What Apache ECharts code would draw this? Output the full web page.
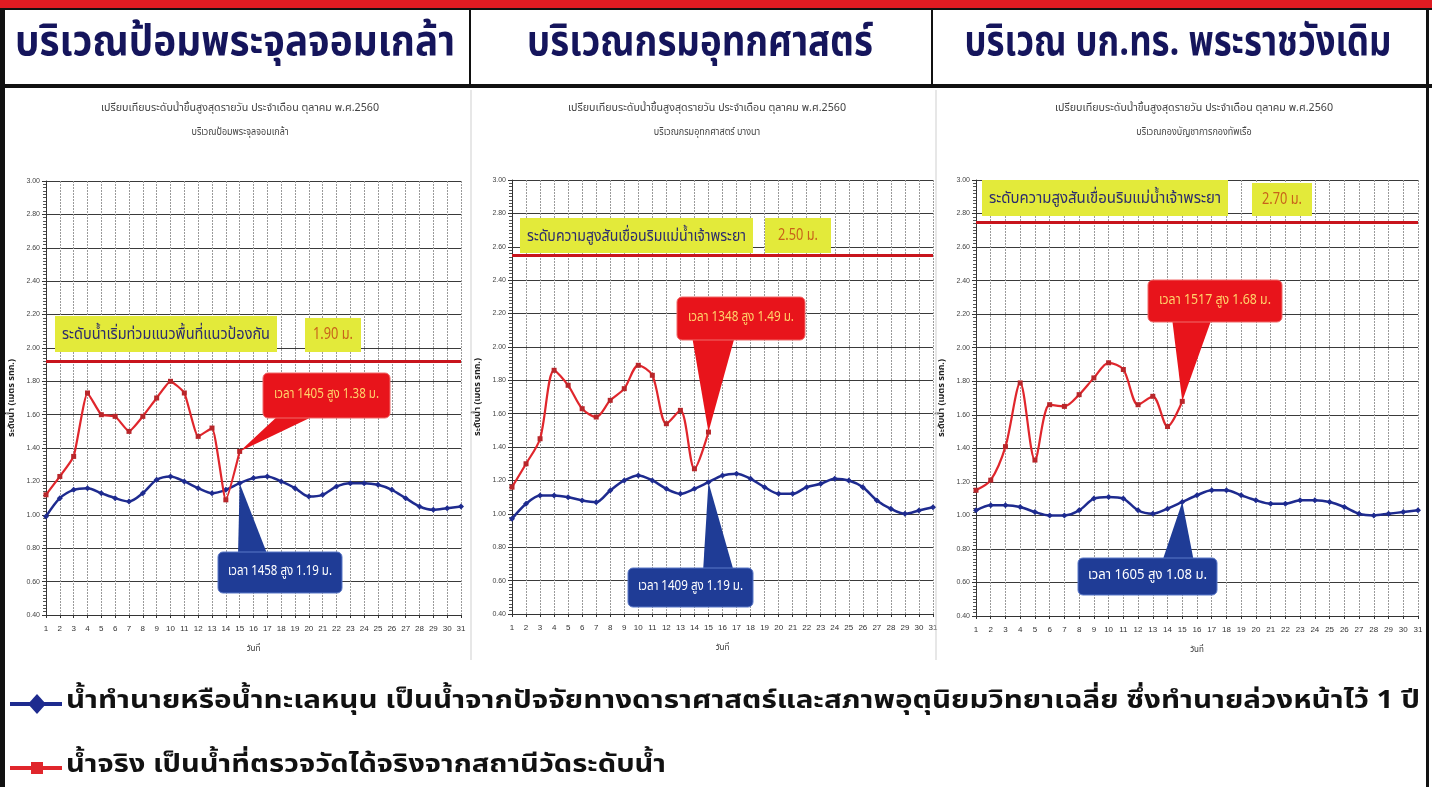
<!DOCTYPE html>
<html><head><meta charset="utf-8">
<script src="https://cdn.jsdelivr.net/npm/echarts@6/dist/echarts.min.js"></script>
<style>html,body{margin:0;padding:0;background:#fff;overflow:hidden}#c{width:1432px;height:787px}</style>
</head><body><div id="c"></div>
<script>
// ---------- data ----------
const days = [1,2,3,4,5,6,7,8,9,10,11,12,13,14,15,16,17,18,19,20,21,22,23,24,25,26,27,28,29,30,31];
const yTicks = [0.4,0.6,0.8,1.0,1.2,1.4,1.6,1.8,2.0,2.2,2.4,2.6,2.8,3.0];

const panelHeaders = ['บริเวณป้อมพระจุลจอมเกล้า','บริเวณกรมอุทกศาสตร์','บริเวณ บก.ทร. พระราชวังเดิม'];
const chartTitle = 'เปรียบเทียบระดับน้ำขึ้นสูงสุดรายวัน ประจำเดือน ตุลาคม พ.ศ.2560';
const chartSubtitles = ['บริเวณป้อมพระจุลจอมเกล้า','บริเวณกรมอุทกศาสตร์ บางนา','บริเวณกองบัญชาการกองทัพเรือ'];

// predicted (blue) and actual (red) daily maximum water level, metres
const pomPredicted = [0.99,1.10,1.15,1.16,1.13,1.10,1.08,1.13,1.21,1.23,1.20,1.16,1.13,1.15,1.19,1.22,1.23,1.20,1.16,1.11,1.12,1.17,1.19,1.19,1.18,1.15,1.10,1.05,1.03,1.04,1.05];
const pomActual    = [1.12,1.23,1.35,1.73,1.60,1.59,1.50,1.59,1.70,1.80,1.73,1.47,1.52,1.09,1.38];
const hydroPredicted = [0.97,1.06,1.11,1.11,1.10,1.08,1.07,1.14,1.20,1.23,1.20,1.15,1.12,1.15,1.19,1.23,1.24,1.21,1.16,1.12,1.12,1.16,1.18,1.21,1.20,1.16,1.08,1.03,1.00,1.02,1.04];
const hydroActual    = [1.16,1.30,1.45,1.86,1.77,1.63,1.58,1.68,1.75,1.89,1.83,1.54,1.62,1.27,1.49];
const navyPredicted = [1.03,1.06,1.06,1.05,1.02,1.00,1.00,1.03,1.10,1.11,1.10,1.03,1.01,1.04,1.08,1.12,1.15,1.15,1.12,1.09,1.07,1.07,1.09,1.09,1.08,1.05,1.01,1.00,1.01,1.02,1.03];
const navyActual    = [1.15,1.21,1.41,1.79,1.33,1.66,1.65,1.72,1.82,1.91,1.87,1.66,1.71,1.53,1.68];

const thresholdLevels = [1.92, 2.55, 2.75];
const thresholdNames = ['ระดับน้ำเริ่มท่วมแนวพื้นที่แนวป้องกัน','ระดับความสูงสันเขื่อนริมแม่น้ำเจ้าพระยา','ระดับความสูงสันเขื่อนริมแม่น้ำเจ้าพระยา'];
const thresholdLabels = ['1.90 ม.','2.50 ม.','2.70 ม.'];

const actualNotes = ['เวลา 1405 สูง 1.38 ม.','เวลา 1348 สูง 1.49 ม.','เวลา 1517 สูง 1.68 ม.'];
const predictedNotes = ['เวลา 1458 สูง 1.19 ม.','เวลา 1409 สูง 1.19 ม.','เวลา 1605 สูง 1.08 ม.'];
const noteDay = 15;

const legendPredicted = 'น้ำทำนายหรือน้ำทะเลหนุน เป็นน้ำจากปัจจัยทางดาราศาสตร์และสภาพอุตุนิยมวิทยาเฉลี่ย ซึ่งทำนายล่วงหน้าไว้ 1 ปี';
const legendActual = 'น้ำจริง เป็นน้ำที่ตรวจวัดได้จริงจากสถานีวัดระดับน้ำ';
const yName = 'ระดับน้ำ (เมตร รทก.)';
const xName = 'วันที่';

// ---------- layout ----------
const FONT = "'Noto Sans Thai','Noto Sans Thai UI','Noto Sans','DejaVu Sans',sans-serif";
const grids = [
  {left:46, top:181, width:415, height:434},
  {left:512, top:180, width:421, height:434},
  {left:976, top:180, width:442, height:436}
];
const titleCx = [240, 707, 1194];
const headerCx = [235, 700, 1178];
const headerW = [440, 346, 427];
const actualSmooth = [0.15, 0.3, 0.3];

const predictedSets = [pomPredicted, hydroPredicted, navyPredicted];
const actualSets = [pomActual, hydroActual, navyActual];

const chart = echarts.init(document.getElementById('c'), null, {renderer:'canvas'});

const xAxes = grids.map((g,i)=>({
  type:'value', gridIndex:i, min:days[0], max:days[days.length-1], interval:1,
  name:xName, nameLocation:'middle', nameGap:30,
  nameTextStyle:{fontSize:8, color:'#333', fontFamily:FONT},
  axisLine:{show:true, lineStyle:{color:'#333', width:1}},
  axisTick:{show:true, length:3, lineStyle:{color:'#333'}},
  axisLabel:{fontSize:8, color:'#333', margin:10, fontFamily:'Liberation Sans Narrow, Liberation Sans, sans-serif'},
  splitLine:{show:true, lineStyle:{color:'#9a9a9a', width:1, type:[2,1]}}
}));
const yAxes = grids.map((g,i)=>({
  type:'value', gridIndex:i, min:yTicks[0], max:yTicks[yTicks.length-1], interval:0.2,
  name:yName, nameLocation:'middle', nameGap:29, nameRotate:90,
  nameTextStyle:{fontSize:9, color:'#222', fontWeight:'bold', fontFamily:FONT},
  axisLine:{show:true, lineStyle:{color:'#333', width:1}},
  axisTick:{show:true, length:4, lineStyle:{color:'#333'}},
  minorTick:{show:true, splitNumber:10, length:3, lineStyle:{color:'#555'}},
  axisLabel:{fontSize:7, color:'#444', margin:6, formatter:v=>v.toFixed(2), fontFamily:'Liberation Sans Narrow, Liberation Sans, sans-serif'},
  splitLine:{show:true, lineStyle:{color:'#3a3a3a', width:1.2}}
}));

const series = [];
grids.forEach((g,i)=>{
  series.push({
    type:'line', xAxisIndex:i, yAxisIndex:i, name:'predicted'+i,
    data: predictedSets[i].map((v,k)=>[days[k], v]),
    smooth:0.3, symbol:'diamond', symbolSize:6, showSymbol:true,
    lineStyle:{color:'#1e2b8f', width:2.5}, itemStyle:{color:'#1e2b8f'}, z:3
  });
  series.push({
    type:'line', xAxisIndex:i, yAxisIndex:i, name:'actual'+i,
    data: actualSets[i].map((v,k)=>[days[k], v]),
    smooth:actualSmooth[i], symbol:'rect', symbolSize:5, showSymbol:true,
    lineStyle:{color:'#e0262c', width:2.2}, itemStyle:{color:'#b8262a'}, z:4,
    markLine:{silent:true, symbol:'none', label:{show:false},
      lineStyle:{color:'#c8141c', width:3, type:'solid'},
      data:[{yAxis:thresholdLevels[i]}]}
  });
});

// measure for horizontal compression of Thai texts
const mctx = document.createElement('canvas').getContext('2d');
function fitScale(text, font, target){ mctx.font = font; const w = mctx.measureText(text).width; return w>0 ? target/w : 1; }

function baseGraphics(){
  const el = [];
  el.push({type:'rect', shape:{x:0,y:0,width:1432,height:8}, style:{fill:'#e01b22'}, z:10});
  el.push({type:'rect', shape:{x:0,y:8,width:1432,height:2}, style:{fill:'#111'}, z:10});
  el.push({type:'rect', shape:{x:0,y:84,width:1432,height:4}, style:{fill:'#111'}, z:10});
  el.push({type:'rect', shape:{x:0,y:8,width:5,height:779}, style:{fill:'#111'}, z:10});
  el.push({type:'rect', shape:{x:1426,y:8,width:3,height:779}, style:{fill:'#111'}, z:10});
  el.push({type:'rect', shape:{x:469,y:8,width:2,height:78}, style:{fill:'#111'}, z:10});
  el.push({type:'rect', shape:{x:931,y:8,width:2,height:78}, style:{fill:'#111'}, z:10});
  el.push({type:'line', shape:{x1:471,y1:90,x2:471,y2:660}, style:{stroke:'#cfcfcf', lineWidth:1}, z:1});
  el.push({type:'line', shape:{x1:936,y1:90,x2:936,y2:660}, style:{stroke:'#cfcfcf', lineWidth:1}, z:1});
  panelHeaders.forEach((t,i)=>{
    const f = 'bold 42px ' + FONT;
    el.push({type:'text', x:headerCx[i], y:47, scaleX:fitScale(t,f,headerW[i]), z:11,
      style:{text:t, x:0, y:0, font:f, fill:'#15155c', align:'center', verticalAlign:'middle',
        textAlign:'center', textVerticalAlign:'middle',
        shadowColor:'rgba(110,140,220,0.8)', shadowBlur:4, shadowOffsetX:2, shadowOffsetY:2}});
  });
  for (let i=0;i<3;i++){
    const f1 = '10px ' + FONT;
    el.push({type:'text', x:titleCx[i], y:109, scaleX:fitScale(chartTitle,f1,278), z:5,
      style:{text:chartTitle, x:0,y:0, font:f1, fill:'#444', align:'center', verticalAlign:'middle', textAlign:'center', textVerticalAlign:'middle'}});
    el.push({type:'text', x:titleCx[i], y:133, scaleX:0.9, z:5,
      style:{text:chartSubtitles[i], x:0,y:0, font:f1, fill:'#444', align:'center', verticalAlign:'middle', textAlign:'center', textVerticalAlign:'middle'}});
  }
  const lf = 'bold 25px ' + FONT;
  el.push({type:'line', shape:{x1:10,y1:704,x2:62,y2:704}, style:{stroke:'#1e2b8f', lineWidth:4}, z:5});
  el.push({type:'polygon', shape:{points:[[37,694],[46,704],[37,714],[28,704]]}, style:{fill:'#1e2b8f'}, z:6});
  el.push({type:'text', x:66, y:703, scaleX:fitScale(legendPredicted,lf,1354), z:5,
    style:{text:legendPredicted, x:0,y:0, font:lf, fill:'#111', align:'left', verticalAlign:'middle', textAlign:'left', textVerticalAlign:'middle'}});
  el.push({type:'line', shape:{x1:10,y1:768,x2:62,y2:768}, style:{stroke:'#e0262c', lineWidth:4}, z:5});
  el.push({type:'rect', shape:{x:31,y:762,width:12,height:12}, style:{fill:'#e0262c'}, z:6});
  el.push({type:'text', x:66, y:767, scaleX:fitScale(legendActual,lf,600), z:5,
    style:{text:legendActual, x:0,y:0, font:lf, fill:'#111', align:'left', verticalAlign:'middle', textAlign:'left', textVerticalAlign:'middle'}});
  return el;
}

const yellowBoxes = [
  {name:[55,316,222,36], val:[305,318,56,34]},
  {name:[520,218,233,35], val:[765,218,66,35]},
  {name:[982,180,246,36], val:[1252,183,60,33]}
];
const redBoxes = [[263,373,127,45],[677,297,128,43],[1148,280,134,42]];
const redBases = [[[280,414],[318,414]],[[692,336],[735,336]],[[1172,318],[1212,318]]];
const blueBoxes = [[218,552,124,41],[628,568,125,39],[1078,558,139,37]];
const blueBases = [[[238,556],[268,556]],[[703,572],[734,572]],[[1162,562],[1194,562]]];

const option = {
  backgroundColor:'#ffffff',
  animation:false,
  grid: grids.map(g=>Object.assign({containLabel:false}, g)),
  xAxis: xAxes, yAxis: yAxes, series: series,
  graphic: baseGraphics()
};
chart.setOption(option);

function noteGraphics(){
  const el = [];
  for (let i=0;i<3;i++){
    const yb = yellowBoxes[i];
    const nf = '16px ' + FONT;
    el.push({type:'rect', shape:{x:yb.name[0],y:yb.name[1],width:yb.name[2],height:yb.name[3]}, style:{fill:'#e3ea3a'}, z:20});
    el.push({type:'text', x:yb.name[0]+yb.name[2]/2, y:yb.name[1]+yb.name[3]/2+2, scaleX:fitScale(thresholdNames[i],nf,yb.name[2]-14), z:21,
      style:{text:thresholdNames[i], x:0,y:0, font:nf, fill:'#2c2c6e', align:'center', verticalAlign:'middle', textAlign:'center', textVerticalAlign:'middle'}});
    el.push({type:'rect', shape:{x:yb.val[0],y:yb.val[1],width:yb.val[2],height:yb.val[3]}, style:{fill:'#e3ea3a'}, z:20});
    el.push({type:'text', x:yb.val[0]+yb.val[2]/2, y:yb.val[1]+yb.val[3]/2+1, scaleX:0.8, z:21,
      style:{text:thresholdLabels[i], x:0,y:0, font:'16px '+FONT, fill:'#c8621a', align:'center', verticalAlign:'middle', textAlign:'center', textVerticalAlign:'middle'}});
    const ap = chart.convertToPixel({gridIndex:i}, [noteDay, actualSets[i][noteDay-1]]);
    const rb = redBoxes[i];
    el.push({type:'polygon', shape:{points:[redBases[i][0], redBases[i][1], ap]}, style:{fill:'#e8141b'}, z:22});
    el.push({type:'rect', shape:{x:rb[0],y:rb[1],width:rb[2],height:rb[3], r:5}, style:{fill:'#e8141b', stroke:'#f06a6a', lineWidth:1}, z:22});
    const cf = '14px ' + FONT;
    el.push({type:'text', x:rb[0]+rb[2]/2, y:rb[1]+rb[3]/2, scaleX:fitScale(actualNotes[i],cf,rb[2]-22), z:23,
      style:{text:actualNotes[i], x:0,y:0, font:cf, fill:'#ffd36a', align:'center', verticalAlign:'middle', textAlign:'center', textVerticalAlign:'middle'}});
    const bp = chart.convertToPixel({gridIndex:i}, [noteDay, predictedSets[i][noteDay-1]]);
    const bb = blueBoxes[i];
    el.push({type:'polygon', shape:{points:[blueBases[i][0], blueBases[i][1], bp]}, style:{fill:'#1f3c96'}, z:22});
    el.push({type:'rect', shape:{x:bb[0],y:bb[1],width:bb[2],height:bb[3], r:5}, style:{fill:'#1f3c96', stroke:'#5a78c8', lineWidth:1}, z:22});
    el.push({type:'text', x:bb[0]+bb[2]/2, y:bb[1]+bb[3]/2, scaleX:fitScale(predictedNotes[i],cf,bb[2]-20), z:23,
      style:{text:predictedNotes[i], x:0,y:0, font:cf, fill:'#ffffff', align:'center', verticalAlign:'middle', textAlign:'center', textVerticalAlign:'middle'}});
  }
  return el;
}
chart.setOption({graphic: baseGraphics().concat(noteGraphics())}, {replaceMerge:['graphic']});
</script>
</body></html>
